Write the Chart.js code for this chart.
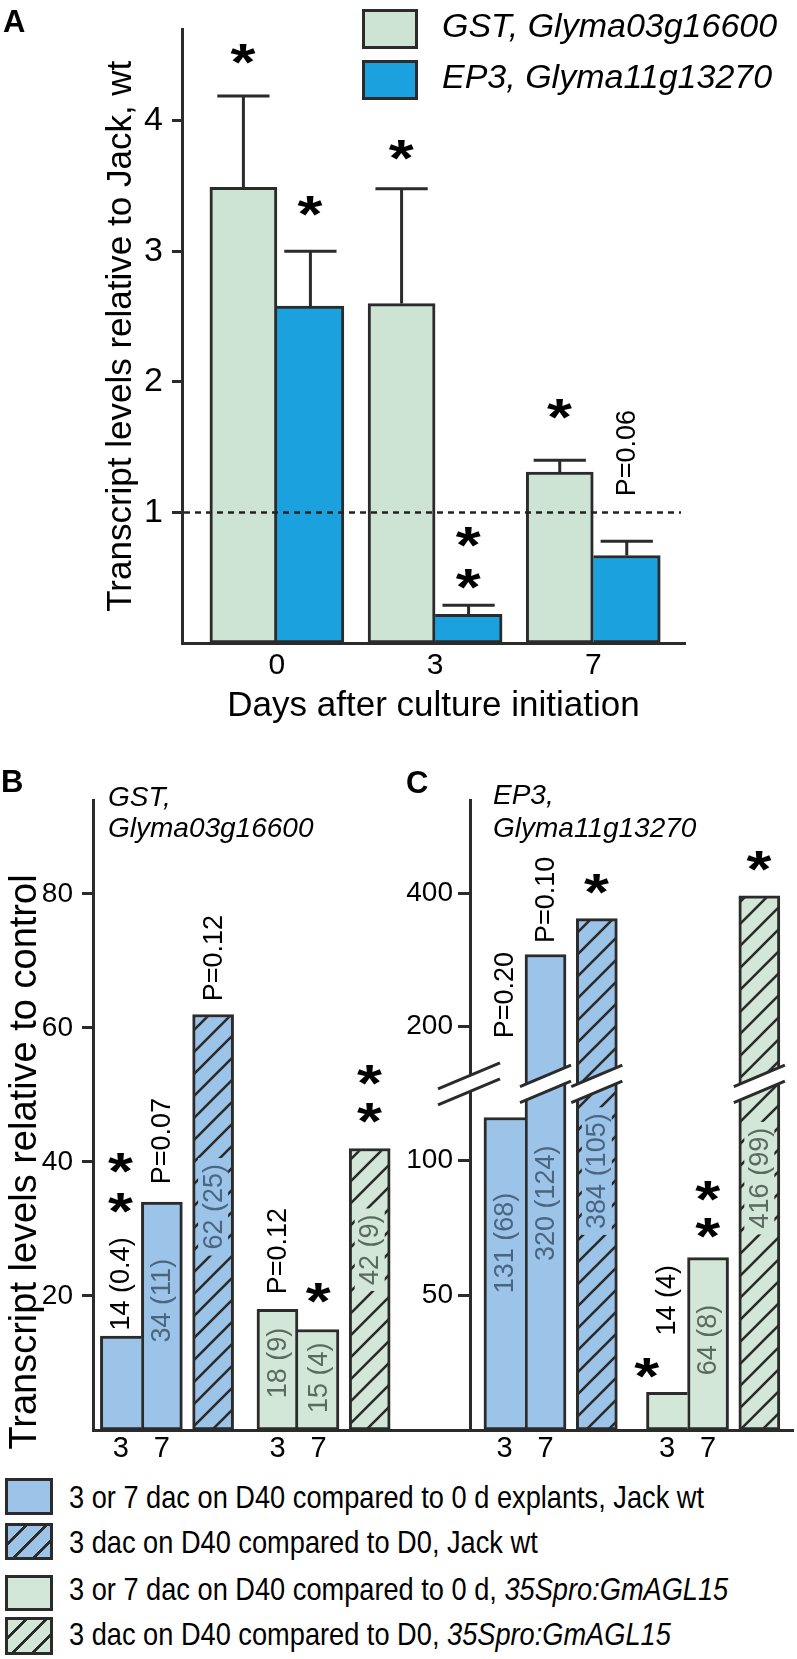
<!DOCTYPE html>
<html>
<head>
<meta charset="utf-8">
<script src="https://cdn.jsdelivr.net/npm/chart.js@4.4.1/dist/chart.umd.min.js"></script>
<style>
  body { margin: 0; background: #fff; }
  #page { position: relative; width: 797px; height: 1659px; overflow: hidden;
          font-family: "Liberation Sans", Arial, Helvetica, sans-serif; color: #000; }
  canvas { position: absolute; left: 0; }
  .t { position: absolute; white-space: nowrap; line-height: 1; }
  .sw { position: absolute; box-sizing: border-box; border: 3px solid #2b2b2b; }
</style>
</head>
<body>
<div id="page">
  <canvas id="chartA" width="797" height="735" style="top:0"></canvas>
  <canvas id="chartB" width="797" height="730" style="top:740px"></canvas>
  <canvas id="chartC" width="797" height="730" style="top:740px"></canvas>
</div>
<script>
// ---------- panel A: transcript levels relative to Jack wt ----------
const aDays = ['0', '3', '7'];
const gstValues = [3.49, 2.60, 1.31];
const gstErrors = [0.70, 0.88, 0.09];
const ep3Values = [2.58, 0.22, 0.67];
const ep3Errors = [0.42, 0.07, 0.11];
const aTicks = [1, 2, 3, 4];
// [series, day index, text, y value]
const aNotes = [
  [0, 0, '*', 4.51], [1, 0, '*', 3.35],
  [0, 1, '*', 3.78], [1, 1, '*', 0.81], [1, 1, '*', 0.49],
  [0, 2, '*', 1.79], [1, 2, 'P=0.06', 1.455]
];

// ---------- panels B and C: relative to control ----------
// series: 3 dac, 7 dac, 3 dac vs D0 (hatched); groups: Jack wt, 35Spro:GmAGL15
const bcDays = ['3', '7'];
const bVal3 = [14, 18];
const bVal7 = [34, 15];
const bValD0 = [62, 42];
const bTicks = [20, 40, 60, 80];
const bNotes = [
  [0, 0, '14 (0.4)', 21.8, 'out'], [0, 0, '*', 39.9], [0, 0, '*', 33.9],
  [1, 0, 'P=0.07', 43.1], [1, 0, '34 (11)', 19.3],
  [2, 0, 'P=0.12', 70.4], [2, 0, '62 (25)', 33.3],
  [0, 1, 'P=0.12', 26.7], [0, 1, '18 (9)', 10],
  [1, 1, '*', 20.4], [1, 1, '15 (4)', 7.8],
  [2, 1, '*', 53], [2, 1, '*', 47.3], [2, 1, '42 (9)', 26.9]
];

const cVal3 = [116, 14];
const cVal7 = [308, 64];
const cValD0 = [362, 396];
const cTicks = [50, 100, 200, 400];
const cNotes = [
  [0, 0, 'P=0.20', 247], [0, 0, '131 (68)', 69.4],
  [1, 0, 'P=0.10', 390], [1, 0, '320 (124)', 84.2],
  [2, 0, '*', 414], [2, 0, '384 (105)', 96.1],
  [0, 1, '14 (4)', 48.2, 'out'], [0, 1, '*', 23, '', -20],
  [1, 1, '*', 88.7], [1, 1, '*', 75], [1, 1, '64 (8)', 33.4],
  [2, 1, '*', 448.5], [2, 1, '416 (99)', 93.5]
];

// ---------- styles ----------
const LINE = '#2b2b2b';
const FONT = '"Liberation Sans", Arial, Helvetica, sans-serif';
const GST_GREEN = '#cde3d4';
const EP3_BLUE = '#1ba1de';
const PALE_BLUE = '#9cc4e9';
const PALE_GREEN = '#d2e7d8';
const groupFill = [PALE_BLUE, PALE_GREEN];
const groupText = ['#4a6580', '#5b6a60'];

// broken y axis for panel C (value -> fraction of axis height)
const cBreakVals = [0, 124, 132, 540];
const cBreakFracs = [0, 0.5302, 0.5686, 1];

class BrokenScale extends Chart.LinearScale {
  static id = 'broken';
  static defaults = {};
  getPixelForValue(v) {
    if (v === null || v === undefined || isNaN(v)) return NaN;
    return this.getPixelForDecimal(this._toDec(v));
  }
  getValueForPixel(p) {
    const d = this.getDecimalForPixel(p);
    for (let i = 1; i < cBreakFracs.length; i++) {
      if (d <= cBreakFracs[i] || i === cBreakFracs.length - 1) {
        return cBreakVals[i - 1] + (d - cBreakFracs[i - 1]) / (cBreakFracs[i] - cBreakFracs[i - 1]) * (cBreakVals[i] - cBreakVals[i - 1]);
      }
    }
  }
  _toDec(v) {
    for (let i = 1; i < cBreakVals.length; i++) {
      if (v <= cBreakVals[i] || i === cBreakVals.length - 1) {
        return cBreakFracs[i - 1] + (v - cBreakVals[i - 1]) / (cBreakVals[i] - cBreakVals[i - 1]) * (cBreakFracs[i] - cBreakFracs[i - 1]);
      }
    }
  }
}
Chart.register(BrokenScale);

function hatch(canvasId, base) {
  const c = document.createElement('canvas');
  c.width = c.height = 22;
  const x = c.getContext('2d');
  x.fillStyle = base;
  x.fillRect(0, 0, 22, 22);
  x.strokeStyle = LINE;
  x.lineWidth = 2.6;
  x.beginPath();
  x.moveTo(-3, 25); x.lineTo(25, -3);
  x.moveTo(-3, 3); x.lineTo(3, -3);
  x.moveTo(19, 25); x.lineTo(25, 19);
  x.stroke();
  return document.getElementById(canvasId).getContext('2d').createPattern(c, 'repeat');
}

// asterisk: about 25 px wide and 20 px tall, as in the figure
function starFont(ctx) {
  ctx.font = 'bold 100px ' + FONT;
  const m = ctx.measureText('*');
  const size = 100 * 20 / (m.actualBoundingBoxAscent + m.actualBoundingBoxDescent);
  const w = (m.actualBoundingBoxRight + m.actualBoundingBoxLeft) * size / 100;
  return { size: size, sx: Math.max(1, Math.min(1.4, 25 / w)) };
}

function drawNotes(chart, notes, hatchedSeries) {
  const ctx = chart.ctx, ys = chart.scales.y;
  const sf = starFont(ctx);
  notes.forEach(([s, g, text, yv, where, dx]) => {
    const el = chart.getDatasetMeta(s).data[g];
    const x = el.x + (dx || 0), y = ys.getPixelForValue(yv);
    ctx.save();
    if (text === '*') {
      ctx.font = 'bold ' + sf.size + 'px ' + FONT;
      const m = ctx.measureText('*');
      ctx.fillStyle = '#000';
      ctx.textAlign = 'left';
      ctx.textBaseline = 'alphabetic';
      ctx.translate(x, y);
      ctx.scale(sf.sx, 1);
      ctx.fillText('*', -(m.actualBoundingBoxRight - m.actualBoundingBoxLeft) / 2,
        (m.actualBoundingBoxAscent - m.actualBoundingBoxDescent) / 2);
    } else {
      const inside = !text.startsWith('P=') && where !== 'out';
      ctx.translate(x, y);
      ctx.rotate(-Math.PI / 2);
      ctx.font = '27px ' + FONT;
      ctx.textAlign = 'center';
      ctx.textBaseline = 'middle';
      if (inside && s === hatchedSeries) {
        const w = ctx.measureText(text).width;
        ctx.fillStyle = groupFill[g];
        ctx.fillRect(-w / 2 - 6, -15, w + 12, 30);
      }
      ctx.fillStyle = inside ? groupText[g] : '#000';
      ctx.fillText(text, 0, 1);
    }
    ctx.restore();
  });
}

// ---------- panel A ----------
const annotA = {
  id: 'annotA',
  afterDatasetsDraw(chart) {
    const ctx = chart.ctx, ys = chart.scales.y, area = chart.chartArea;
    // error bars (upper whisker only)
    [gstErrors, ep3Errors].forEach((errs, s) => {
      const vals = s === 0 ? gstValues : ep3Values;
      chart.getDatasetMeta(s).data.forEach((el, i) => {
        const top = ys.getPixelForValue(vals[i] + errs[i]);
        const half = el.width * 0.39;
        ctx.save();
        ctx.strokeStyle = LINE;
        ctx.lineWidth = 3;
        ctx.beginPath();
        ctx.moveTo(el.x, el.y);
        ctx.lineTo(el.x, top);
        ctx.moveTo(el.x - half, top);
        ctx.lineTo(el.x + half, top);
        ctx.stroke();
        ctx.restore();
      });
    });
    // reference line at 1
    const y1 = ys.getPixelForValue(1);
    ctx.save();
    ctx.strokeStyle = '#222';
    ctx.lineWidth = 2.6;
    ctx.setLineDash([6, 5]);
    ctx.beginPath();
    ctx.moveTo(area.left + 2, y1);
    ctx.lineTo(area.right - 4, y1);
    ctx.stroke();
    ctx.restore();
    drawNotes(chart, aNotes, -1);
  }
};

new Chart(document.getElementById('chartA'), {
  type: 'bar',
  data: {
    datasets: [
      {
        label: 'GST, Glyma03g16600',
        data: gstValues.map((v, i) => ({ x: i, y: v })),
        backgroundColor: GST_GREEN, borderColor: LINE, borderWidth: 3,
        borderSkipped: false, barThickness: 67
      },
      {
        label: 'EP3, Glyma11g13270',
        data: ep3Values.map((v, i) => ({ x: i, y: v })),
        backgroundColor: EP3_BLUE, borderColor: LINE, borderWidth: 3,
        borderSkipped: 'left', barThickness: 67
      }
    ]
  },
  options: {
    responsive: false,
    animation: false,
    layout: { autoPadding: false, padding: { top: 13, right: 112, left: 0, bottom: 0 } },
    plugins: { legend: { display: false }, tooltip: { enabled: false } },
    scales: {
      x: {
        type: 'linear', min: -0.6, max: 2.58, bounds: 'data', offset: false,
        afterFit: s => { s.height = 92; },
        afterBuildTicks: s => { s.ticks = aDays.map((d, i) => ({ value: i })); },
        grid: { display: false, drawTicks: false, offset: false },
        border: { display: true, color: LINE, width: 3 },
        ticks: {
          callback: (v, i) => aDays[i], autoSkip: false, maxRotation: 0,
          color: '#000', padding: 5, font: { family: FONT, size: 30 }
        },
        title: {
          display: true, text: 'Days after culture initiation', color: '#000',
          font: { family: FONT, size: 35 }, padding: { top: 0, bottom: 8 }
        }
      },
      y: {
        min: 0, max: 4.7, bounds: 'data',
        afterFit: s => { s.width = 182; },
        afterBuildTicks: s => { s.ticks = aTicks.map(v => ({ value: v })); },
        grid: { drawOnChartArea: false, drawTicks: true, tickLength: 10, tickWidth: 3, tickColor: LINE, color: LINE },
        border: { display: true, color: LINE, width: 3 },
        ticks: { color: '#000', padding: 9, font: { family: FONT, size: 34 } },
        title: {
          display: true, text: 'Transcript levels relative to Jack, wt', color: '#000',
          font: { family: FONT, size: 35 }, padding: { top: 100, bottom: 0 }
        }
      }
    }
  },
  plugins: [annotA]
});

// ---------- panels B and C ----------
function bcDatasets(canvasId, v3, v7, vD0, step, offsets) {
  const pos = (s, g) => g * step + offsets[s];
  const common = { borderColor: LINE, borderWidth: 3, grouped: false, categoryPercentage: 1, barPercentage: 1 };
  // the shorter of two touching bars leaves out the shared side
  const skip3 = ctx => (v3[ctx.dataIndex] < v7[ctx.dataIndex] ? 'right' : false);
  const skip7 = ctx => (v7[ctx.dataIndex] <= v3[ctx.dataIndex] ? 'left' : false);
  return [
    Object.assign({ label: '3 dac', data: v3.map((v, g) => ({ x: pos(0, g), y: v })),
      backgroundColor: groupFill, borderSkipped: skip3 }, common),
    Object.assign({ label: '7 dac', data: v7.map((v, g) => ({ x: pos(1, g), y: v })),
      backgroundColor: groupFill, borderSkipped: skip7 }, common),
    Object.assign({ label: '3 dac vs D0', data: vD0.map((v, g) => ({ x: pos(2, g), y: v })),
      backgroundColor: [hatch(canvasId, PALE_BLUE), hatch(canvasId, PALE_GREEN)], borderSkipped: false }, common)
  ];
}

function xAxisBC(min, max, step) {
  return {
    type: 'linear', min: min, max: max, bounds: 'data', offset: false,
    afterFit: s => { s.height = 40; },
    afterBuildTicks: s => { s.ticks = [0, 1, step, step + 1].map(v => ({ value: v })); },
    grid: { display: false, drawTicks: false, offset: false },
    border: { display: true, color: LINE, width: 3 },
    ticks: {
      callback: (v, i) => bcDays[i % 2], autoSkip: false, maxRotation: 0,
      color: '#000', padding: 2, font: { family: FONT, size: 29 }
    }
  };
}

const annotB = {
  id: 'annotB',
  afterDatasetsDraw(chart) { drawNotes(chart, bNotes, 2); }
};

new Chart(document.getElementById('chartB'), {
  type: 'bar',
  data: { datasets: bcDatasets('chartB', bVal3, bVal7, bValD0, 3.82, [0, 1, 2.25]) },
  options: {
    responsive: false,
    animation: false,
    layout: { autoPadding: false, padding: { top: 60, right: 324, left: 0, bottom: 0 } },
    plugins: { legend: { display: false }, tooltip: { enabled: false } },
    scales: {
      x: xAxisBC(-0.68, 8.59, 3.82),
      y: {
        min: 0, max: 94, bounds: 'data',
        afterFit: s => { s.width = 93; },
        afterBuildTicks: s => { s.ticks = bTicks.map(v => ({ value: v })); },
        grid: { drawOnChartArea: false, drawTicks: true, tickLength: 11, tickWidth: 3, tickColor: LINE, color: LINE },
        border: { display: true, color: LINE, width: 3 },
        ticks: { color: '#000', padding: 9, font: { family: FONT, size: 28 } }
      }
    }
  },
  plugins: [annotB]
});

function breakMark(ctx, cx, hw, yc) {
  const slope = -0.42, gap = 8;
  const xl = cx - hw, xr = cx + hw;
  const yl = yc + slope * (xl - cx), yr = yc + slope * (xr - cx);
  ctx.save();
  ctx.fillStyle = '#fff';
  ctx.beginPath();
  ctx.moveTo(xl, yl - gap); ctx.lineTo(xr, yr - gap);
  ctx.lineTo(xr, yr + gap); ctx.lineTo(xl, yl + gap);
  ctx.closePath();
  ctx.fill();
  ctx.strokeStyle = LINE;
  ctx.lineWidth = 3;
  ctx.beginPath();
  ctx.moveTo(xl, yl - gap); ctx.lineTo(xr, yr - gap);
  ctx.moveTo(xl, yl + gap); ctx.lineTo(xr, yr + gap);
  ctx.stroke();
  ctx.restore();
}

const annotC = {
  id: 'annotC',
  afterDatasetsDraw(chart) {
    const ctx = chart.ctx, ys = chart.scales.y;
    const yc = (ys.getPixelForValue(cBreakVals[1]) + ys.getPixelForValue(cBreakVals[2])) / 2;
    breakMark(ctx, chart.chartArea.left - 1, 31, yc);
    chart.data.datasets.forEach((ds, s) => {
      chart.getDatasetMeta(s).data.forEach((el, g) => {
        if (ds.data[g].y > cBreakVals[2]) breakMark(ctx, el.x, el.width / 2 + 5, yc);
      });
    });
    drawNotes(chart, cNotes, 2);
  }
};

new Chart(document.getElementById('chartC'), {
  type: 'bar',
  data: { datasets: bcDatasets('chartC', cVal3, cVal7, cValD0, 3.96, [0, 1, 2.25]) },
  options: {
    responsive: false,
    animation: false,
    layout: { autoPadding: false, padding: { top: 60, right: 4, left: 0, bottom: 0 } },
    plugins: { legend: { display: false }, tooltip: { enabled: false } },
    scales: {
      x: xAxisBC(-0.84, 7.03, 3.96),
      y: {
        type: 'broken', min: 0, max: 540, bounds: 'data',
        afterFit: s => { s.width = 470; },
        afterBuildTicks: s => { s.ticks = cTicks.map(v => ({ value: v })); },
        grid: { drawOnChartArea: false, drawTicks: true, tickLength: 12, tickWidth: 3, tickColor: LINE, color: LINE },
        border: { display: true, color: LINE, width: 3 },
        ticks: { color: '#000', padding: 5, font: { family: FONT, size: 28 } }
      }
    }
  },
  plugins: [annotC]
});

// ---------- text and legends ----------
const page = document.getElementById('page');
function addText(html, x, baseline, size, extra) {
  const d = document.createElement('div');
  d.className = 't';
  d.innerHTML = html;
  d.style.left = x + 'px';
  d.style.top = (baseline - 0.8465 * size) + 'px';
  d.style.fontSize = size + 'px';
  if (extra) Object.assign(d.style, extra);
  page.appendChild(d);
}
function addSwatch(x, y, w, h, bg) {
  const d = document.createElement('div');
  d.className = 'sw';
  Object.assign(d.style, { left: x + 'px', top: y + 'px', width: w + 'px', height: h + 'px', background: bg });
  page.appendChild(d);
}
const stripes = c => 'repeating-linear-gradient(135deg, ' + c + ' 0 11px, #2b2b2b 11px 14px)';

addText('A', 3, 32, 31, { fontWeight: 'bold' });
addText('B', 1, 792, 31, { fontWeight: 'bold' });
addText('C', 406, 793, 31, { fontWeight: 'bold' });

// y title of panel B runs a little past the axis end, so it is set here
const bTitle = document.createElement('div');
bTitle.className = 't';
bTitle.textContent = 'Transcript levels relative to control';
Object.assign(bTitle.style, { left: '23px', top: '1162px', fontSize: '38px',
  transform: 'translate(-50%, -50%) rotate(-90deg)' });
page.appendChild(bTitle);

addSwatch(362, 9, 56, 40, GST_GREEN);
addSwatch(362, 60, 56, 40, EP3_BLUE);
addText('<i>GST, Glyma03g16600</i>', 442, 37, 34);
addText('<i>EP3, Glyma11g13270</i>', 442, 88, 34);

addText('<i>GST,</i>', 108, 807, 28);
addText('<i>Glyma03g16600</i>', 108, 838, 28);
addText('<i>EP3,</i>', 493, 805, 28);
addText('<i>Glyma11g13270</i>', 493, 838, 28);

const narrow = { transform: 'scaleX(0.85)', transformOrigin: '0 0' };
addSwatch(5, 1478, 48, 37, PALE_BLUE);
addSwatch(5, 1523, 48, 37, stripes(PALE_BLUE));
addSwatch(5, 1575, 48, 36, PALE_GREEN);
addSwatch(5, 1617, 48, 38, stripes(PALE_GREEN));
addText('3 or 7 dac on D40 compared to 0 d explants, Jack wt', 69, 1508, 32, narrow);
addText('3 dac on D40 compared to D0, Jack wt', 69, 1553, 32, narrow);
addText('3 or 7 dac on D40 compared to 0 d, <i>35Spro:GmAGL15</i>', 69, 1600, 32, narrow);
addText('3 dac on D40 compared to D0, <i>35Spro:GmAGL15</i>', 69, 1645, 32, narrow);
</script>
</body>
</html>
